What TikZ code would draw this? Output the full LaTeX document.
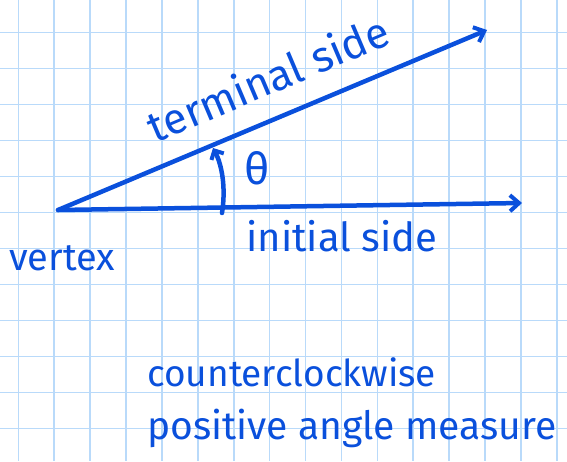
\documentclass[tikz,border=0pt]{standalone}
\usepackage{fontspec}
\setmainfont{Fira Sans}
\usetikzlibrary{arrows.meta}
\definecolor{ink}{RGB}{10,80,220}
\definecolor{gridblue}{RGB}{185,218,250}
\tikzset{
  ray/.style={ink, line width=4.5pt, line cap=round, -{Straight Barb[length=9pt,width=16pt,line width=4pt]}},
  hand/.style={ink, inner sep=1pt, font=\fontsize{#1}{#1}\selectfont},
  hand/.default=38
}
\begin{document}
\begin{tikzpicture}[x=1pt,y=-1pt]
  \useasboundingbox[fill=white] (0,0) rectangle (567,461);
  % Grid paper
  \foreach \i in {0,...,15} \draw[gridblue, line width=1.6pt] (18.3+35.9*\i,0) -- (18.3+35.9*\i,461);
  \foreach \j in {0,...,11} \draw[gridblue, line width=1.6pt] (0,32.3+36*\j) -- (567,32.3+36*\j);
  % Sides of the angle
  \coordinate (vtx) at (58,210);
  \coordinate (iend) at (522,203);
  \coordinate (tend) at (487,30);
  \draw[ray] (vtx) -- (iend);
  \draw[ray] (vtx) -- (tend);
  % Angle arrow
  \coordinate (a0) at (222,213);
  \coordinate (a1) at (213,148);
  \draw[ray, -{Straight Barb[length=7pt,width=14pt,line width=4pt]}] (a0) .. controls (226,188) and (222,165) .. (a1);
  % Labels
  \node[hand=44] (theta) at (257,168) {θ};
  \node[hand=43, rotate=23] (tlab) at (268,78) {terminal side};
  \node[hand=40] (ilab) at (342,236) {initial side};
  \node[hand=38] (vlab) at (62,258) {vertex};
  \node[hand=37, anchor=west] (ccw) at (146,372) {counterclockwise};
  \node[hand=39, anchor=west] (pos) at (146,428) {positive angle measure};
\end{tikzpicture}
\end{document}
